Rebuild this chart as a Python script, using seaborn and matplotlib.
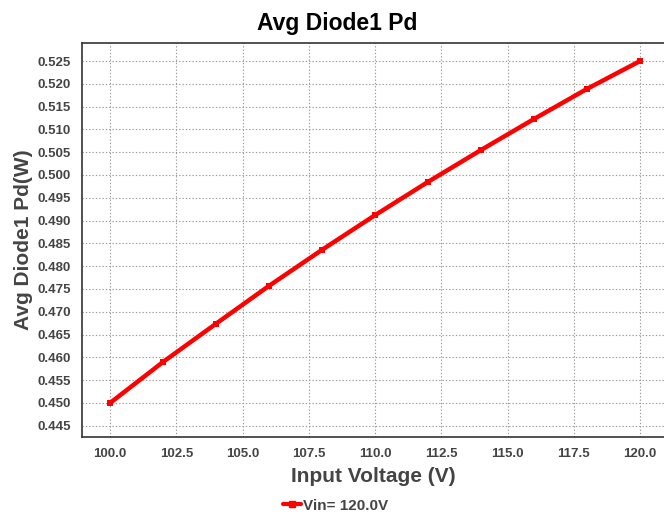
import pandas as pd
import numpy as np
import seaborn as sns
import matplotlib.pyplot as plt

vin = [100, 102, 104, 106, 108, 110, 112, 114, 116, 118, 120]
pd_avg = [0.4500, 0.4590, 0.4674, 0.4757, 0.4836, 0.4912, 0.4985, 0.5055, 0.5123, 0.5189, 0.5250]
xticks = [100.0, 102.5, 105.0, 107.5, 110.0, 112.5, 115.0, 117.5, 120.0]
yticks = [0.445, 0.450, 0.455, 0.460, 0.465, 0.470, 0.475, 0.480, 0.485, 0.490,
          0.495, 0.500, 0.505, 0.510, 0.515, 0.520, 0.525]

df = pd.DataFrame({'vin': vin, 'pd': pd_avg, 'serie': 'Vin= 120.0V'})

sns.set_style('white')
plt.rcParams['font.family'] = ['Liberation Sans', 'DejaVu Sans']

fig = plt.figure(figsize=(6.64, 5.15), dpi=100)
ax = fig.add_axes([0.1235, 0.1515, 0.8765, 0.765])

sns.lineplot(data=df, x='vin', y='pd', hue='serie', palette=['#ff0000'], marker='s',
             markersize=5, markeredgewidth=0, linewidth=3.2, ax=ax, legend=False)

ax.set_xlim(98.94, 120.9)
ax.set_ylim(0.44254, 0.52895)
ax.set_xticks(xticks)
ax.set_xticklabels([f'{t:.1f}' for t in xticks])
ax.set_yticks(yticks)
ax.set_yticklabels([f'{t:.3f}' for t in yticks])
ax.grid(True, linestyle=(0, (1.2, 1.8)), color='#999999', linewidth=0.8)
ax.tick_params(axis='both', length=0, labelsize=9.5, labelcolor='#444444', pad=8)
for lab in ax.get_xticklabels() + ax.get_yticklabels():
    lab.set_fontweight('bold')

for s in ['left', 'bottom', 'top']:
    ax.spines[s].set_color('#333333')
    ax.spines[s].set_linewidth(1.2)
ax.spines['right'].set_visible(False)

ax.set_xlabel('Input Voltage (V)', fontsize=15, fontweight='bold', color='#444444', labelpad=5)
ax.set_ylabel('Avg Diode1 Pd(W)', fontsize=15, fontweight='bold', color='#444444', labelpad=3)
fig.text(0.508, 0.955, 'Avg Diode1 Pd', ha='center', va='center', fontsize=16.5, fontweight='bold', color='black')

handle = plt.Line2D([], [], color='#ff0000', linewidth=3, marker='s', markersize=5)
fig.legend([handle], ['Vin= 120.0V'], loc='center', bbox_to_anchor=(0.505, 0.018), frameon=False,
           handlelength=1.2, handletextpad=0.1, prop={'weight': 'bold', 'size': 11},
           labelcolor='#444444')

fig.savefig('out.png', dpi=100)
